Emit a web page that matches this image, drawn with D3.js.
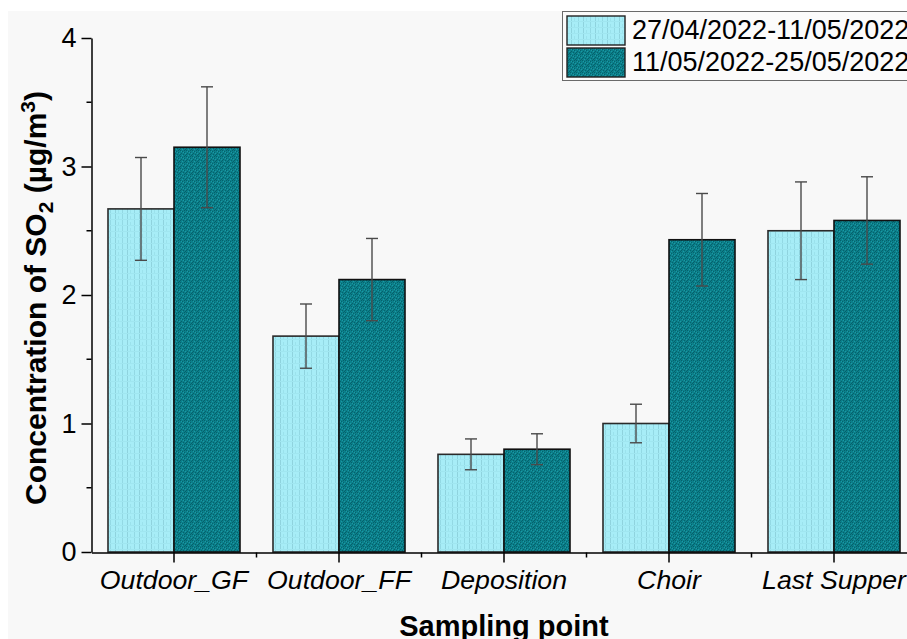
<!DOCTYPE html>
<html>
<head>
<meta charset="utf-8">
<script src="https://cdn.jsdelivr.net/npm/d3@7/dist/d3.min.js"></script>
<style>
  html, body { margin: 0; padding: 0; background: #fff; }
  svg { display: block; font-family: "Liberation Sans", Arial, sans-serif; }
</style>
</head>
<body>
<svg id="chart" width="907" height="639"></svg>
<script>
// Sampling points and the two sampling periods
const categories = ["Outdoor_GF", "Outdoor_FF", "Deposition", "Choir", "Last Supper"];
const seriesNames = ["27/04/2022-11/05/2022", "11/05/2022-25/05/2022"];

// Mean SO2 concentration (µg/m3) per sampling point, per period
const period1Values = [2.67, 1.68, 0.76, 1.00, 2.50];
const period2Values = [3.15, 2.12, 0.80, 2.43, 2.58];

// Standard deviation shown as error bars
const period1Errors = [0.40, 0.25, 0.12, 0.15, 0.38];
const period2Errors = [0.47, 0.32, 0.12, 0.36, 0.34];

// Y axis ticks
const yMajorTicks = [0, 1, 2, 3, 4];
const yMinorTicks = [0.5, 1.5, 2.5, 3.5];

const seriesValues = [period1Values, period2Values];
const seriesErrors = [period1Errors, period2Errors];

const svg = d3.select("#chart");

// Panel background
svg.append("rect").attr("x", 8).attr("y", 11).attr("width", 899).attr("height", 628).attr("fill", "#f8f8f8");

// Fill textures
const defs = svg.append("defs");
const pLight = defs.append("pattern").attr("id", "texLight").attr("patternUnits", "userSpaceOnUse")
  .attr("width", 12).attr("height", 6);
pLight.append("rect").attr("width", 12).attr("height", 6).attr("fill", "#a7edf7");
pLight.append("rect").attr("x", 2).attr("width", 1).attr("height", 6).attr("fill", "#93d9e4");
pLight.append("rect").attr("x", 7).attr("width", 1).attr("height", 6).attr("fill", "#8fd3de");
pLight.append("rect").attr("x", 10).attr("width", 1).attr("height", 3).attr("fill", "#9be2ec");
pLight.append("rect").attr("y", 3).attr("width", 12).attr("height", 1).attr("fill", "#a0e6f0");

const pDark = defs.append("pattern").attr("id", "texDark").attr("patternUnits", "userSpaceOnUse")
  .attr("width", 6).attr("height", 6);
pDark.append("rect").attr("width", 6).attr("height", 6).attr("fill", "#0c7f8a");
[[0,0],[2,1],[4,2],[1,3],[3,4],[5,5],[4,0],[0,4]].forEach(([x, y]) => {
  pDark.append("rect").attr("x", x).attr("y", y).attr("width", 1).attr("height", 1).attr("fill", "#05626c");
});
[[1,1],[3,2],[5,3],[2,5]].forEach(([x, y]) => {
  pDark.append("rect").attr("x", x).attr("y", y).attr("width", 1).attr("height", 1).attr("fill", "#1a9aa5");
});

const fills = ["url(#texLight)", "url(#texDark)"];
const strokes = ["#2a2a2a", "#111"];

// Scales
const x0 = d3.scaleBand().domain(categories).range([91.5, 916.5]).paddingInner(0.2).paddingOuter(0.1);
const x1 = d3.scaleBand().domain(d3.range(seriesNames.length)).range([0, x0.bandwidth()]).padding(0);
const y = d3.scaleLinear().domain([0, 4]).range([552, 38]);

// Bars and error bars
const groups = svg.append("g").selectAll("g").data(categories).join("g")
  .attr("transform", d => `translate(${x0(d)},0)`);

seriesNames.forEach((s, si) => {
  groups.append("rect")
    .attr("x", (d, i) => x1(si))
    .attr("y", (d, i) => y(seriesValues[si][i]))
    .attr("width", x1.bandwidth())
    .attr("height", (d, i) => y(0) - y(seriesValues[si][i]))
    .attr("fill", fills[si])
    .attr("stroke", strokes[si])
    .attr("stroke-width", 1.6);
});

seriesNames.forEach((s, si) => {
  const cx = x1(si) + x1.bandwidth() / 2;
  const eb = groups.append("g").attr("stroke", "#4a4a4a").attr("stroke-width", 1.4);
  eb.append("line")
    .attr("x1", cx).attr("x2", cx)
    .attr("y1", (d, i) => y(seriesValues[si][i] + seriesErrors[si][i]))
    .attr("y2", (d, i) => y(seriesValues[si][i] - seriesErrors[si][i]));
  [1, -1].forEach(sign => {
    eb.append("line")
      .attr("x1", cx - 6).attr("x2", cx + 6)
      .attr("y1", (d, i) => y(seriesValues[si][i] + sign * seriesErrors[si][i]))
      .attr("y2", (d, i) => y(seriesValues[si][i] + sign * seriesErrors[si][i]));
  });
});

// Y axis
const yAxis = svg.append("g").attr("transform", "translate(91.5,0)")
  .call(d3.axisLeft(y).tickValues(yMajorTicks).tickFormat(d3.format("d")).tickSize(10).tickSizeOuter(0).tickPadding(5));
yAxis.select(".domain").attr("stroke", "#000").attr("stroke-width", 1.5);
yAxis.selectAll(".tick line").attr("stroke", "#000").attr("stroke-width", 1.5);
yAxis.selectAll(".tick text").attr("font-size", 27).attr("fill", "#000")
  .attr("font-family", "Liberation Sans, Arial, sans-serif");
yAxis.selectAll(".minor").data(yMinorTicks).join("line").attr("class", "minor")
  .attr("x1", -5).attr("x2", 0).attr("y1", d => y(d)).attr("y2", d => y(d))
  .attr("stroke", "#000").attr("stroke-width", 1.5);

// X axis
const xAxis = svg.append("g").attr("transform", "translate(0,552.5)")
  .call(d3.axisBottom(x0).tickSize(10).tickSizeOuter(0).tickPadding(8));
xAxis.select(".domain").attr("stroke", "#000").attr("stroke-width", 1.5);
xAxis.selectAll(".tick line").attr("stroke", "#000").attr("stroke-width", 1.5);
xAxis.selectAll(".tick text").attr("font-size", 26.7).attr("font-style", "italic").attr("fill", "#000")
  .attr("font-family", "Liberation Sans, Arial, sans-serif");
const boundaries = categories.slice(1).map(c => x0(c) - x0.step() * x0.paddingInner() / 2);
xAxis.selectAll(".minor").data(boundaries).join("line").attr("class", "minor")
  .attr("x1", d => d).attr("x2", d => d).attr("y1", 0).attr("y2", 5)
  .attr("stroke", "#000").attr("stroke-width", 1.5);

// Axis titles
const yTitle = svg.append("text")
  .attr("transform", "translate(46,298) rotate(-90)")
  .attr("text-anchor", "middle").attr("font-size", 30).attr("font-weight", "bold").attr("fill", "#000");
yTitle.append("tspan").text("Concentration of SO");
yTitle.append("tspan").attr("font-size", 21).attr("dy", 7).text("2");
yTitle.append("tspan").attr("dy", -7).text(" (µg/m");
yTitle.append("tspan").attr("font-size", 21).attr("dy", -11).text("3");
yTitle.append("tspan").attr("dy", 11).text(")");

svg.append("text").attr("x", 504).attr("y", 636).attr("text-anchor", "middle")
  .attr("font-size", 29).attr("font-weight", "bold").attr("fill", "#000").text("Sampling point");

// Legend
const legend = svg.append("g");
legend.append("rect").attr("x", 562.5).attr("y", 11.5).attr("width", 360).attr("height", 69)
  .attr("fill", "#fbfbfb").attr("stroke", "#6a6a6a").attr("stroke-width", 1);
seriesNames.forEach((s, si) => {
  const yy = 16 + si * 32;
  legend.append("rect").attr("x", 567).attr("y", yy).attr("width", 58).attr("height", 29)
    .attr("fill", fills[si]).attr("stroke", "#222").attr("stroke-width", 1.4);
  legend.append("text").attr("x", 632).attr("y", yy + 23).attr("font-size", 27).attr("fill", "#000").text(s);
});
</script>
</body>
</html>
